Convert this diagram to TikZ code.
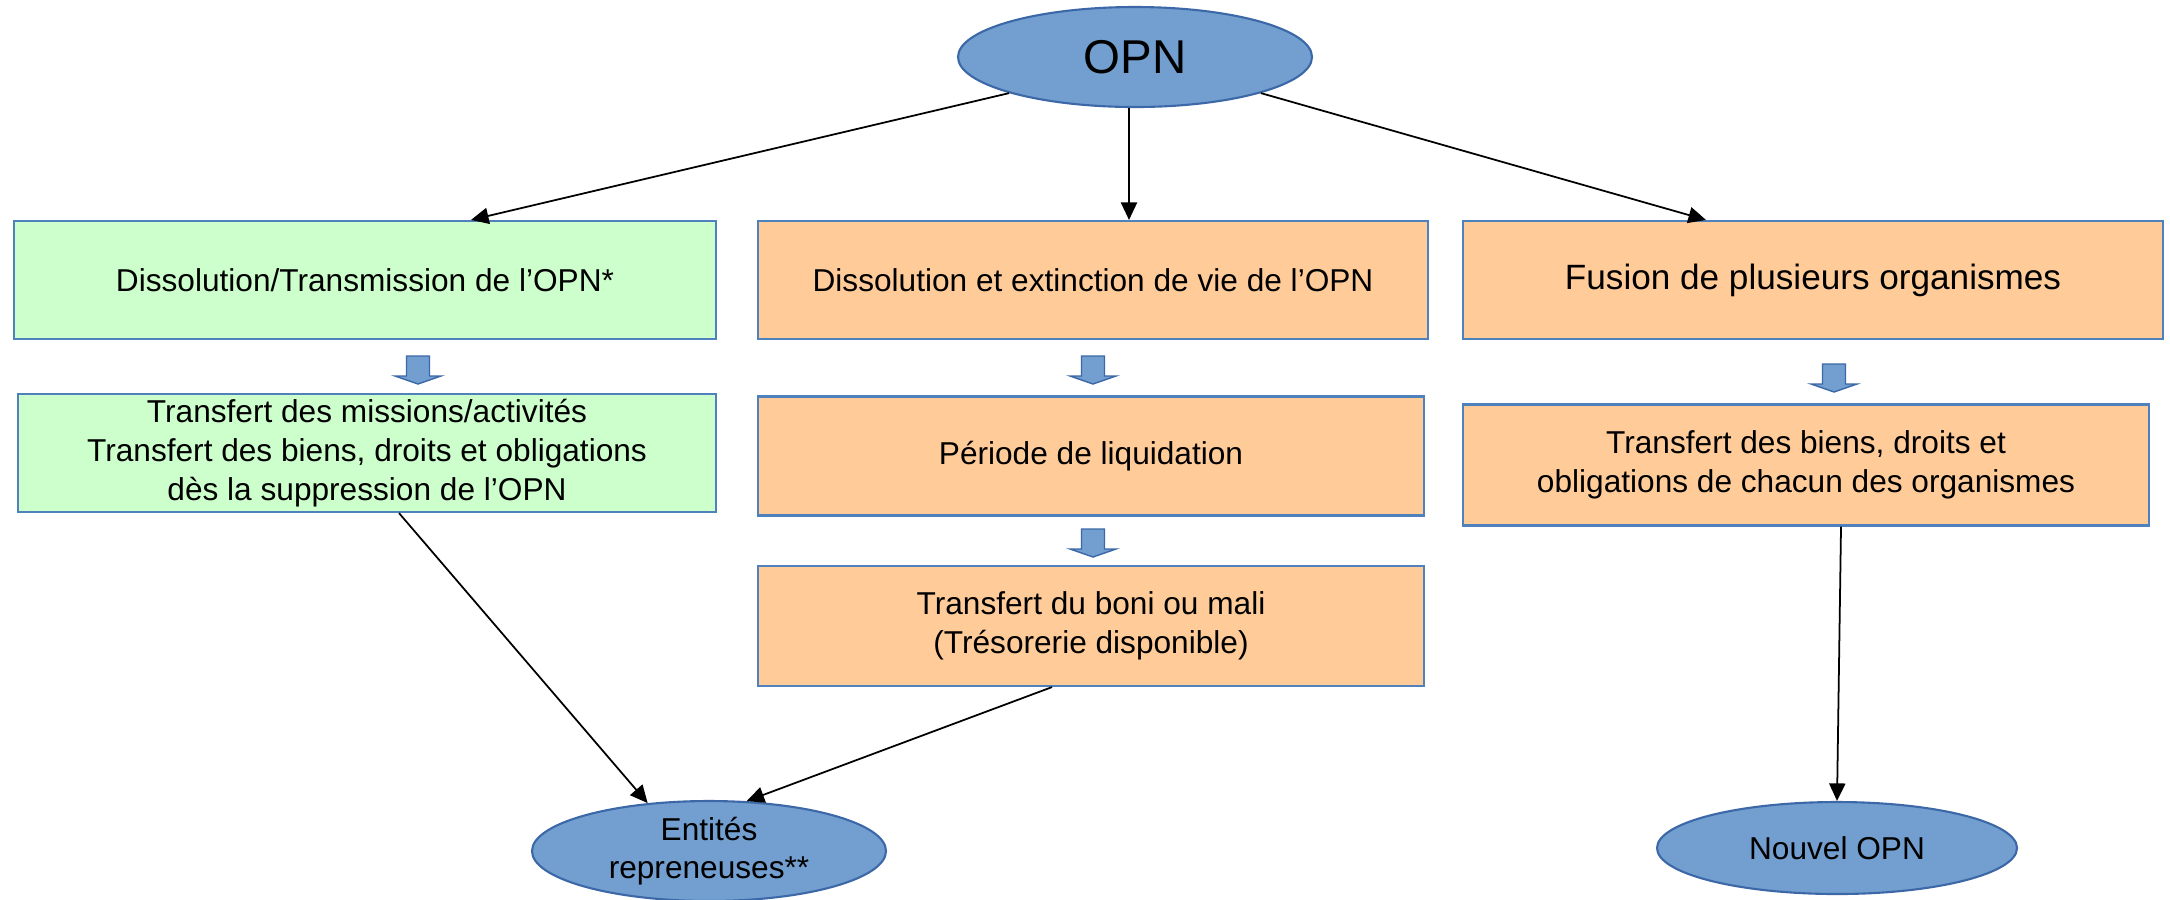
\documentclass[tikz,border=0pt]{standalone}
\usepackage{fontspec}
\setmainfont{Liberation Sans}
\usetikzlibrary{arrows.meta,shapes.geometric}

\definecolor{greenfill}{HTML}{CCFFCC}
\definecolor{orangefill}{HTML}{FFCC99}
\definecolor{boxline}{HTML}{4F81BD}
\definecolor{ellfill}{HTML}{729FCF}
\definecolor{ellline}{HTML}{3C68A8}

\begin{document}
\begin{tikzpicture}[
    x=0.1mm,
    y=-0.1mm,
    box/.style={
        draw=boxline,
        line width=0.6pt,
        fill=orangefill,
        align=center,
        inner sep=0pt,
        font=\fontsize{9}{11}\selectfont
    },
    ell/.style={
        ellipse,
        draw=ellline,
        line width=0.6pt,
        fill=ellfill,
        align=center,
        inner sep=0pt,
        font=\fontsize{9}{11}\selectfont
    },
    arrow/.style={
        -{Triangle[length=5pt,width=4.6pt]},
        line width=0.5pt,
        black
    },
    blockarrow/.style={
        draw=ellline,
        line width=0.4pt,
        fill=ellfill
    }
]
    \useasboundingbox (0,0) rectangle (2170,899);

    % Top
    \node[ell, minimum width=35.4mm, minimum height=10mm, font=\fontsize{13.5}{15}\selectfont] (opn) at (1135,57) {OPN};

    % Left column
    \node[box, fill=greenfill, minimum width=70.2mm, minimum height=11.8mm] (dissol) at (365,280) {Dissolution/Transmission de l’OPN*};
    \node[box, fill=greenfill, minimum width=69.8mm, minimum height=11.8mm] (transfert) at (367,453) {Transfert des missions/activités\\Transfert des biens, droits et obligations\\dès la suppression de l’OPN};

    % Middle column
    \node[box, minimum width=67mm, minimum height=11.8mm] (extinction) at (1093,280) {Dissolution et extinction de vie de l’OPN};
    \node[box, minimum width=66.6mm, minimum height=11.9mm] (liquidation) at (1091,456) {Période de liquidation};
    \node[box, minimum width=66.6mm, minimum height=12mm] (boni) at (1091,626) {Transfert du boni ou mali\\(Trésorerie disponible)};

    % Right column
    \node[box, minimum width=70mm, minimum height=11.8mm, font=\fontsize{10}{12}\selectfont] (fusion) at (1813,280) {Fusion de plusieurs organismes};
    \node[box, minimum width=68.6mm, minimum height=12.1mm] (biens) at (1806,465) {Transfert des biens, droits et\\obligations de chacun des organismes};

    % Bottom
    \node[ell, minimum width=35.4mm, minimum height=10mm, inner ysep=-3pt] (entites) at (709,851) {Entités\\repreneuses**};
    \node[ell, minimum width=36mm, minimum height=9.2mm] (nouvel) at (1837,848) {Nouvel OPN};

    % Connecting arrows
    \draw[arrow] (opn.196) -- ([xshift=10.6mm]dissol.north);
    \draw[arrow] ([xshift=-0.6mm]opn.south) -- ([xshift=-0.6mm]opn.south |- extinction.north);
    \draw[arrow] (opn.344) -- ([xshift=-10.7mm]fusion.north);
    \draw[arrow] ([xshift=3.2mm]transfert.south) -- (entites.142);
    \draw[arrow] ([xshift=-3.9mm]boni.south) -- (entites.53);
    \draw[arrow] ([xshift=3.5mm]biens.south) -- (nouvel.north);

    % Block arrows between steps
    \foreach \bx/\by in {418/356, 1093/356, 1093/529, 1834/364}
        \draw[blockarrow] (\bx-11.5,\by) -- (\bx+11.5,\by) -- (\bx+11.5,\by+20) -- (\bx+23,\by+20)
            -- (\bx,\by+28) -- (\bx-23,\by+20) -- (\bx-11.5,\by+20) -- cycle;
\end{tikzpicture}
\end{document}
